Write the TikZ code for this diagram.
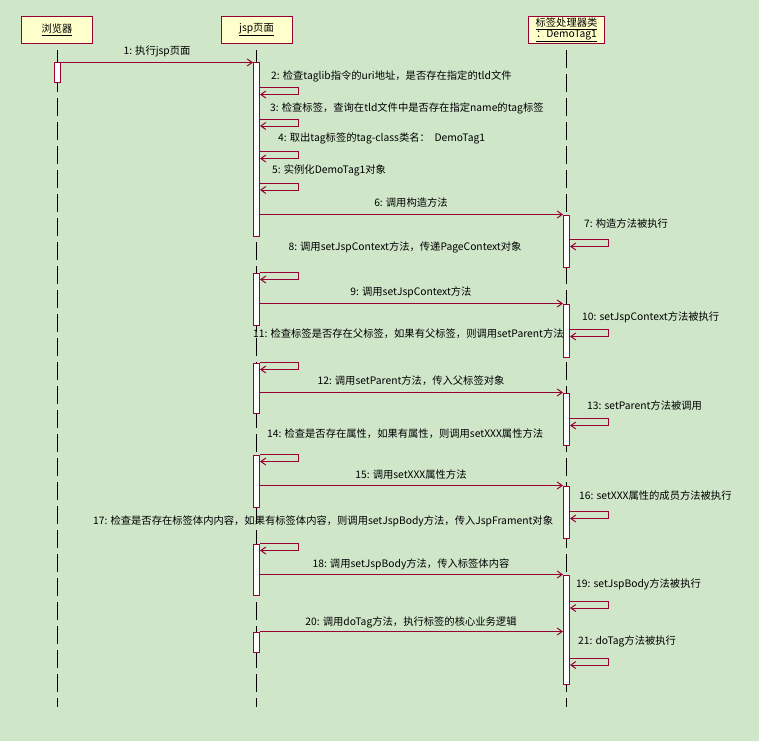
\documentclass[tikz,border=0pt]{standalone}
\usepackage{fontspec}
\setmainfont{Noto Sans CJK SC}
\usetikzlibrary{arrows.meta}
\definecolor{bg}{RGB}{207,230,201}
\definecolor{mar}{RGB}{153,0,51}
\definecolor{hdr}{RGB}{255,255,204}
\newcommand\selfmsg[2]{\draw[msg] (#1.east |- 0,#2) -- ++(38,0) -- ++(0,7) -- ++(-38,0);}
\begin{document}
\begin{tikzpicture}[x=1pt,y=-1pt, font=\fontsize{10.3}{12}\selectfont,
 hdrbox/.style={draw=mar, fill=hdr, line width=1pt, minimum width=71pt, minimum height=27pt, inner sep=0pt, align=center},
 life/.style={draw=black, line width=1pt, dash pattern=on 18pt off 6pt},
 act/.style={draw=mar, fill=white, line width=1pt, minimum width=6pt, inner sep=0pt, anchor=north},
 msg/.style={draw=mar, line width=1pt, -{Straight Barb[length=5pt,width=7pt]}},
 lbl/.style={inner sep=0pt, anchor=west},
 clbl/.style={inner sep=0pt}]
\fill[bg] (0,0) rectangle (759,741);
\useasboundingbox (0,0) rectangle (759,741);
% headers
\node[hdrbox] (hb) at (57,30) {\underline{浏览器}};
\node[hdrbox] (hj) at (256.5,30) {\underline{jsp页面}};
\node[hdrbox, minimum width=76pt] (ht) at (566.5,30) {\underline{标签处理器类}\\[-1pt]\underline{：DemoTag1}};
% lifelines
\coordinate (bot) at (0,707);
\draw[life] ([yshift=-6pt]hb.south) -- (hb.south |- bot);
\draw[life] ([yshift=-6pt]hj.south) -- (hj.south |- bot);
\draw[life] ([yshift=-6pt]ht.south) -- (ht.south |- bot);
% activations
\node[act, minimum height=20pt] (bA) at (57,62.5) {};
\node[act, minimum height=173pt] (jA1) at (256.5,62.5) {};
\node[act, minimum height=52pt] (jA2) at (256.5,272.5) {};
\node[act, minimum height=50pt] (jA3) at (256.5,362.5) {};
\node[act, minimum height=52pt] (jA4) at (256.5,454.5) {};
\node[act, minimum height=51pt] (jA5) at (256.5,543.5) {};
\node[act, minimum height=20pt] (jA6) at (256.5,631.5) {};
\node[act, minimum height=52pt] (tA1) at (566.5,214.5) {};
\node[act, minimum height=53pt] (tA2) at (566.5,303.5) {};
\node[act, minimum height=52pt] (tA3) at (566.5,392.5) {};
\node[act, minimum height=52pt] (tA4) at (566.5,485.5) {};
\node[act, minimum height=109pt] (tA5) at (566.5,574.5) {};
% messages
\draw[msg] (bA.east |- 0,62.5) -- (jA1.west |- 0,62.5);
\node[clbl] (l1) at (157,51) {1: 执行jsp页面};
\selfmsg{jA1}{87.5}
\node[lbl] (l2) at (271,76) {2: 检查taglib指令的uri地址，是否存在指定的tld文件};
\selfmsg{jA1}{119}
\node[lbl] (l3) at (270,108) {3: 检查标签，查询在tld文件中是否存在指定name的tag标签};
\selfmsg{jA1}{151.5}
\node[lbl] (l4) at (278,138) {4: 取出tag标签的tag-class类名：\ \ DemoTag1};
\selfmsg{jA1}{183}
\node[lbl] (l5) at (272,170) {5: 实例化DemoTag1对象};
\draw[msg] (jA1.east |- 0,214.5) -- (tA1.west |- 0,214.5);
\node[clbl] (l6) at (411,203) {6: 调用构造方法};
\selfmsg{tA1}{239.5}
\node[lbl] (l7) at (584,224) {7: 构造方法被执行};
\selfmsg{jA2}{272.5}
\node[clbl] (l8) at (405,247) {8: 调用setJspContext方法，传递PageContext对象};
\draw[msg] (jA2.east |- 0,303.5) -- (tA2.west |- 0,303.5);
\node[clbl] (l9) at (411,292) {9: 调用setJspContext方法};
\selfmsg{tA2}{329.5}
\node[lbl] (l10) at (582,317) {10: setJspContext方法被执行};
\selfmsg{jA3}{362.5}
\node[lbl] (l11) at (253,334) {11: 检查标签是否存在父标签，如果有父标签，则调用setParent方法};
\draw[msg] (jA3.east |- 0,392.5) -- (tA3.west |- 0,392.5);
\node[clbl] (l12) at (411,381) {12: 调用setParent方法，传入父标签对象};
\selfmsg{tA3}{418.5}
\node[lbl] (l13) at (587,406) {13: setParent方法被调用};
\selfmsg{jA4}{454.5}
\node[lbl] (l14) at (267,434) {14: 检查是否存在属性，如果有属性，则调用setXXX属性方法};
\draw[msg] (jA4.east |- 0,485.5) -- (tA4.west |- 0,485.5);
\node[clbl] (l15) at (411,475) {15: 调用setXXX属性方法};
\selfmsg{tA4}{511.5}
\node[lbl] (l16) at (579,496) {16: setXXX属性的成员方法被执行};
\selfmsg{jA5}{543.5}
\node[lbl] (l17) at (93,521) {17: 检查是否存在标签体内内容，如果有标签体内容，则调用setJspBody方法，传入JspFrament对象};
\draw[msg] (jA5.east |- 0,574.5) -- (tA5.west |- 0,574.5);
\node[clbl] (l18) at (411,564) {18: 调用setJspBody方法，传入标签体内容};
\selfmsg{tA5}{601}
\node[lbl] (l19) at (576,584) {19: setJspBody方法被执行};
\draw[msg] (jA6.east |- 0,631.5) -- (tA5.west |- 0,631.5);
\node[clbl] (l20) at (411,622) {20: 调用doTag方法，执行标签的核心业务逻辑};
\selfmsg{tA5}{658}
\node[lbl] (l21) at (578,641) {21: doTag方法被执行};
\end{tikzpicture}
\end{document}
